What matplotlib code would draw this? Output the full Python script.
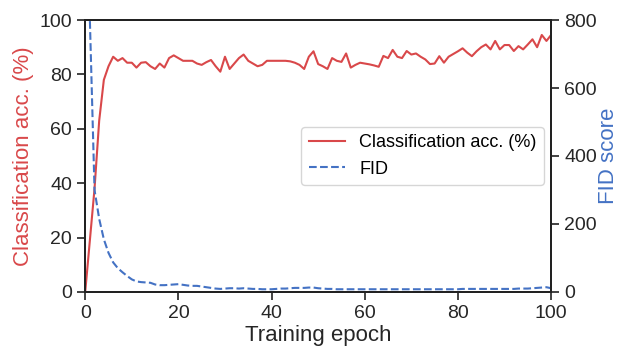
import matplotlib
matplotlib.use("Agg")
import matplotlib.pyplot as plt
import numpy as np

epochs = list(range(0, 101))
acc = [0, 19, 38, 63, 78, 83, 86.5, 85, 86, 84.3,
       84.3, 82.5, 84.3, 84.5, 83, 82, 84, 82.5, 86, 87,
       86, 85, 85, 85, 84, 83.5, 84.5, 85.3, 83, 81,
       86.5, 82, 84, 86, 87.3, 85, 84, 83, 83.5, 85,
       85, 85, 85, 85, 84.8, 84.3, 83.5, 82, 86.5, 88.5,
       83.8, 83, 82, 86, 85, 84.6, 87.7, 82.5, 83.5, 84.3,
       84, 83.7, 83.3, 82.8, 86.8, 86, 89, 86.5, 86, 88.6,
       87.3, 87.7, 86.5, 85.5, 83.8, 84, 86.7, 84.3, 86.5, 87.5,
       88.5, 89.6, 88, 86.7, 88.5, 90, 91, 89.2, 92.3, 89.2,
       90.8, 90.8, 88.6, 90.4, 89.2, 91, 92.9, 90, 94.5, 92.3,
       94.5]
fid = [1500, 800, 300, 215, 155, 115, 87, 70, 58, 47,
       37, 31, 29, 28, 27, 22, 20, 20, 21, 22,
       23, 21, 19, 18, 18, 16, 14, 12, 10, 9,
       10, 11, 11, 10, 11, 10, 9, 9, 8, 8,
       8, 9, 10, 10, 11, 12, 12, 12, 13, 13,
       11, 10, 9, 9, 8, 8, 8, 8, 8, 8,
       8, 8, 8, 8, 8, 8, 8, 8, 8, 8,
       8, 8, 8, 8, 8, 8, 8, 8, 8, 8,
       8, 9, 9, 9, 9, 9, 9, 9, 9, 9,
       9, 9, 9, 10, 10, 10, 11, 12, 13, 14,
       11]

acc_label = "Classification acc. (%)"
fid_label = "FID"
xlabel = "Training epoch"
ylabel_left = "Classification acc. (%)"
ylabel_right = "FID score"

red = "#d9484a"
blue = "#4472c4"

plt.rcParams['font.family'] = ['Liberation Sans', 'DejaVu Sans']

fig = plt.figure(figsize=(6.22, 3.48), dpi=100)
ax = fig.add_axes([0.137, 0.161, 0.749, 0.7815])
ax2 = ax.twinx()

l1, = ax.plot(epochs, acc, color=red, lw=1.5, label=acc_label)
l2, = ax2.plot(epochs, fid, color=blue, lw=1.5, ls='--', label=fid_label)

ax.set_xlim(0, 100)
ax.set_ylim(0, 100)
ax2.set_ylim(0, 800)
ax.set_xticks([0, 20, 40, 60, 80, 100])
ax.set_yticks([0, 20, 40, 60, 80, 100])
ax2.set_yticks([0, 200, 400, 600, 800])

for a in (ax, ax2):
    a.tick_params(labelsize=14, length=6, width=1.2, direction='out', color='#222222', labelcolor='#262626')
    for s in a.spines.values():
        s.set_linewidth(1.4)
        s.set_color('#222222')

ax.set_xlabel(xlabel, fontsize=16, color='#262626', labelpad=2)
ax.set_ylabel(ylabel_left, fontsize=16, color=red, labelpad=4)
ax2.set_ylabel(ylabel_right, fontsize=16, color=blue, labelpad=1)

leg = ax.legend([l1, l2], [acc_label, fid_label], loc='center right', fontsize=13,
                frameon=True, fancybox=True, framealpha=0.8, edgecolor='#cccccc',
                handlelength=2.0, borderaxespad=0.4)

fig.savefig("out.png", dpi=100)
